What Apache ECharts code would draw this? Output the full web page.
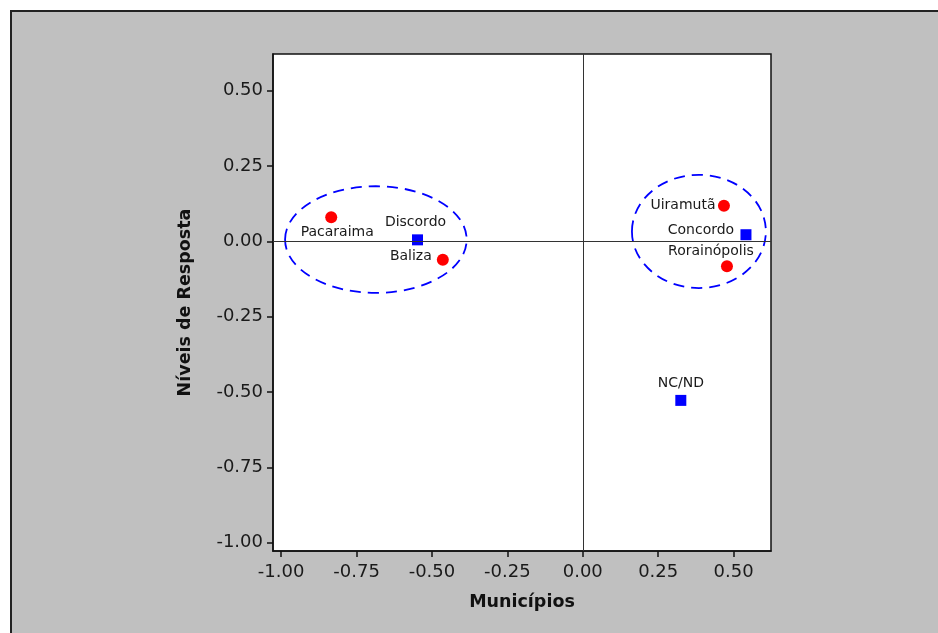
<!DOCTYPE html>
<html>
<head>
<meta charset="utf-8">
<script src="https://cdn.jsdelivr.net/npm/echarts@6/dist/echarts.min.js"></script>
<style>
html,body{margin:0;padding:0;background:#fff;}
#chart{width:938px;height:633px;}
</style>
</head>
<body>
<div id="chart"></div>
<script>
// ---- data ----
var municipios = ['Pacaraima', 'Baliza', 'Uiramutã', 'Rorainópolis'];
var municipiosX = [-0.834, -0.464, 0.468, 0.478];
var municipiosY = [0.080, -0.061, 0.118, -0.083];

var respostas = ['Discordo', 'Concordo', 'NC/ND'];
var respostasX = [-0.548, 0.541, 0.325];
var respostasY = [0.005, 0.022, -0.528];

var tickValues = [-1.00, -0.75, -0.50, -0.25, 0.00, 0.25, 0.50];

// ellipses grouping (centre x, centre y, radius x, radius y) in data units
var ellipseCX = [-0.686, 0.385];
var ellipseCY = [0.006, 0.033];
var ellipseRX = [0.301, 0.222];
var ellipseRY = [0.177, 0.188];

// ---- label placement (pixels) ----
var municipioOffsets = [[6, 15], [-32, -3], [-41, 0], [-16, -15]];
var respostaOffsets = [[-2, -17], [-45, -4], [0, -17]];

var FONT = 'DejaVu Sans';

function pts(names, xs, ys, offs) {
  return names.map(function (n, i) {
    return {
      name: n,
      value: [xs[i], ys[i]],
      label: { offset: offs[i] }
    };
  });
}

var ellipseData = ellipseCX.map(function (c, i) {
  return [c, ellipseCY[i], ellipseRX[i], ellipseRY[i]];
});

var chart = echarts.init(document.getElementById('chart'));
var option = {
  backgroundColor: '#ffffff',
  animation: false,
  graphic: [{
    type: 'rect',
    z: -10,
    left: 10, top: 10,
    shape: { width: 960, height: 660 },
    style: { fill: '#c0c0c0', stroke: '#222', lineWidth: 2 }
  }],
  grid: {
    left: 273, top: 54, width: 498, height: 497,
    show: true, backgroundColor: '#ffffff',
    borderColor: '#111', borderWidth: 1.5,
    containLabel: false
  },
  xAxis: {
    type: 'value',
    min: -1.027, max: 0.624,
    name: 'Municípios',
    nameLocation: 'middle',
    nameGap: 42,
    nameTextStyle: { fontFamily: FONT, fontWeight: 'bold', fontSize: 17.5, color: '#111' },
    axisLine: { show: true, onZero: false, lineStyle: { color: '#111', width: 1.5 } },
    axisTick: { show: true, inside: false, length: 6, customValues: tickValues, lineStyle: { color: '#111', width: 1.5 } },
    axisLabel: {
      customValues: tickValues, margin: 12,
      fontFamily: FONT, fontSize: 18, color: '#1a1a1a',
      formatter: function (v) { return v.toFixed(2); }
    },
    splitLine: { show: false }
  },
  yAxis: {
    type: 'value',
    min: -1.028, max: 0.622,
    name: 'Níveis de Resposta',
    nameLocation: 'middle',
    nameGap: 79,
    nameRotate: 90,
    nameTextStyle: { fontFamily: FONT, fontWeight: 'bold', fontSize: 17.5, color: '#111' },
    axisLine: { show: true, onZero: false, lineStyle: { color: '#111', width: 1.5 } },
    axisTick: { show: true, inside: false, length: 6, customValues: tickValues, lineStyle: { color: '#111', width: 1.5 } },
    axisLabel: {
      customValues: tickValues, margin: 10,
      fontFamily: FONT, fontSize: 18, color: '#1a1a1a',
      formatter: function (v) { return v.toFixed(2); }
    },
    splitLine: { show: false }
  },
  series: [
    {
      type: 'scatter',
      name: 'zero',
      data: [],
      silent: true,
      markLine: {
        silent: true,
        symbol: ['none', 'none'],
        label: { show: false },
        lineStyle: { color: '#333', width: 1, type: 'solid', opacity: 1 },
        data: [{ xAxis: 0 }, { yAxis: 0 }]
      }
    },
    {
      type: 'custom',
      name: 'grupos',
      silent: true,
      data: ellipseData,
      renderItem: function (params, api) {
        var c = api.coord([api.value(0), api.value(1)]);
        var s = api.size([api.value(2), api.value(3)]);
        return {
          type: 'ellipse',
          shape: { cx: c[0], cy: c[1], rx: s[0], ry: s[1] },
          style: { fill: 'none', stroke: '#0000ff', lineWidth: 1.8, lineDash: [11, 7] }
        };
      },
      z: 3
    },
    {
      type: 'scatter',
      name: 'Municípios',
      symbol: 'circle',
      symbolSize: 12,
      itemStyle: { color: '#ff0000', opacity: 1 },
      label: {
        show: true, position: 'inside',
        formatter: '{b}', fontFamily: FONT, fontSize: 14, color: '#1a1a1a', opacity: 1,
        align: 'center', verticalAlign: 'middle'
      },
      data: pts(municipios, municipiosX, municipiosY, municipioOffsets),
      z: 4
    },
    {
      type: 'scatter',
      name: 'Respostas',
      symbol: 'rect',
      symbolSize: 11,
      itemStyle: { color: '#0000ff', opacity: 1 },
      label: {
        show: true, position: 'inside',
        formatter: '{b}', fontFamily: FONT, fontSize: 14, color: '#1a1a1a', opacity: 1,
        align: 'center', verticalAlign: 'middle'
      },
      data: pts(respostas, respostasX, respostasY, respostaOffsets),
      z: 4
    }
  ]
};
chart.setOption(option);
</script>
</body>
</html>
